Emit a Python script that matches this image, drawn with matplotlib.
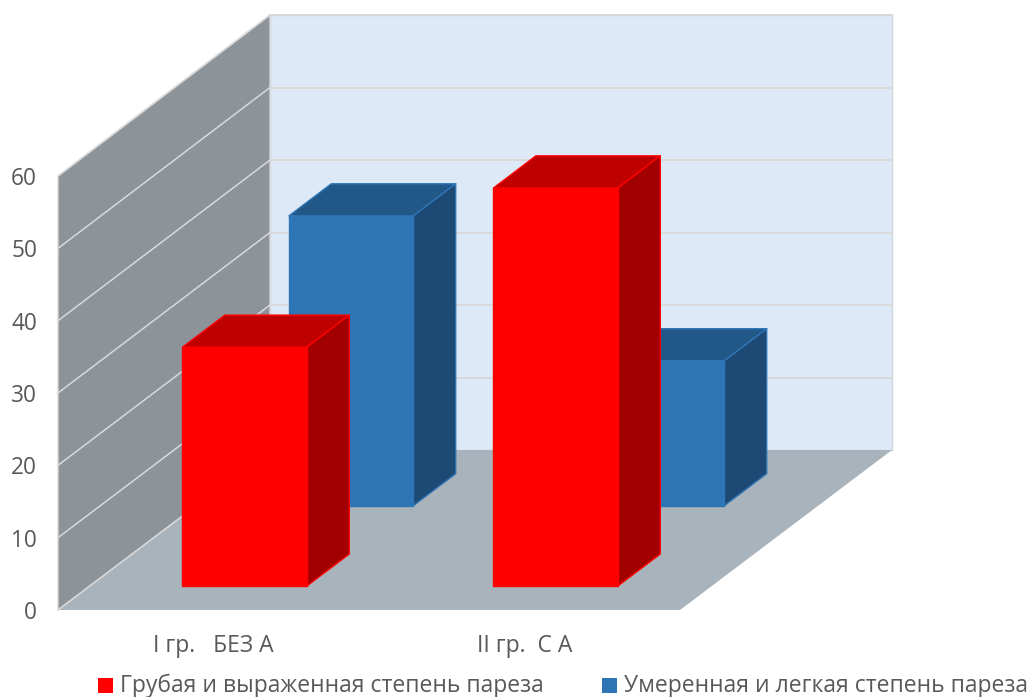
import matplotlib
matplotlib.use("Agg")
import matplotlib.pyplot as plt
from matplotlib.patches import Polygon, Rectangle

categories = ["I гр.   БЕЗ А", "II гр.  С А"]
series_names = ["Грубая и выраженная степень пареза", "Умеренная и легкая степень пареза"]
severe_values = [33, 55]
moderate_values = [40, 20]
value_ticks = [0, 10, 20, 30, 40, 50, 60]

plt.rcParams["font.family"] = ["Open Sans", "DejaVu Sans"]
TEXT = "#595959"

fig = plt.figure(figsize=(10.31, 6.97), dpi=100)
ax = fig.add_axes([0, 0, 1, 1])
ax.set_xlim(0, 1031)
ax.set_ylim(697, 0)
ax.axis("off")


def project(cat, value, depth):
    """Oblique projection from (category, value, depth 0..1) to canvas pixels."""
    px = 58 + 311 * cat + 212 * depth
    py = 610 - 160 * depth - value * (7.233 + 0.017 * depth)
    return px, py


def face(points, fc, ec="none", lw=0.0, z=1):
    ax.add_patch(Polygon([project(*p) for p in points], closed=True, fc=fc, ec=ec,
                         lw=lw, zorder=z, joinstyle="round"))


top_val = value_ticks[-1]
n_cat = len(categories)

# Chart box: back wall, side wall and floor
face([(0, 0, 1), (n_cat, 0, 1), (n_cat, top_val, 1), (0, top_val, 1)], "#DEE9F7", "#D0D7E0", 1.0, 1)
face([(0, 0, 0), (0, 0, 1), (0, top_val, 1), (0, top_val, 0)], "#8C9399", "#D9D9D9", 1.0, 2)
face([(0, 0, 0), (n_cat, 0, 0), (n_cat, 0, 1), (0, 0, 1)], "#A9B3BB", z=2)

# Gridlines run along the side wall and across the back wall
for v in value_ticks[1:]:
    a, b, c = project(0, v, 0), project(0, v, 1), project(n_cat, v, 1)
    ax.plot([a[0], b[0]], [a[1], b[1]], color="#D9D9D9", lw=1.1, zorder=3)
    ax.plot([b[0], c[0]], [b[1], c[1]], color="#D9D9D9", lw=1.4, zorder=3)
fl = project(0, 0, 0), project(0, 0, 1)
ax.plot([fl[0][0], fl[1][0]], [fl[0][1], fl[1][1]], color="#D9D9D9", lw=1.1, zorder=3)


def bar3d(cat, value, d0, d1, colors, edge, z):
    half = 0.2
    x0, x1 = cat + 0.5 - half - 0.002, cat + 0.5 + half - 0.002
    front, top, side = colors
    face([(x0, value, d0), (x1, value, d0), (x1, value, d1), (x0, value, d1)], top, edge, 1.0, z)
    face([(x1, 0, d0), (x1, 0, d1), (x1, value, d1), (x1, value, d0)], side, edge, 1.0, z)
    face([(x0, 0, d0), (x1, 0, d0), (x1, value, d0), (x0, value, d0)], front, edge, 1.0, z + 0.1)


RED = ("#FF0000", "#BE0000", "#A20000")
BLUE = ("#2E75B6", "#215888", "#1D4A75")

# The rear row goes first so the front row covers it
for i, v in enumerate(moderate_values):
    bar3d(i, v, 0.652, 0.852, BLUE, "#2E75B6", 5 + i)
for i, v in enumerate(severe_values):
    bar3d(i, v, 0.15, 0.35, RED, "#FF0000", 10 + i)

# Value axis labels
for v in value_ticks:
    _, py = project(0, v, 0)
    ax.text(37, py + 3, str(v), ha="right", va="center", fontsize=16.3, color=TEXT)

# Category labels
for i, label in enumerate(categories):
    px, _ = project(i + 0.5, 0, 0)
    ax.text(px, 646, label, ha="center", va="center", fontsize=16.5, color=TEXT)

# Legend
for name, color, sx in zip(series_names, (RED[0], BLUE[0]), (98, 602)):
    ax.add_patch(Rectangle((sx, 678), 15, 15, fc=color, ec="none", zorder=20))
    ax.text(sx + 22, 686, name, ha="left", va="center", fontsize=16.5, color=TEXT)

fig.savefig("out.png", dpi=100, facecolor="white")
